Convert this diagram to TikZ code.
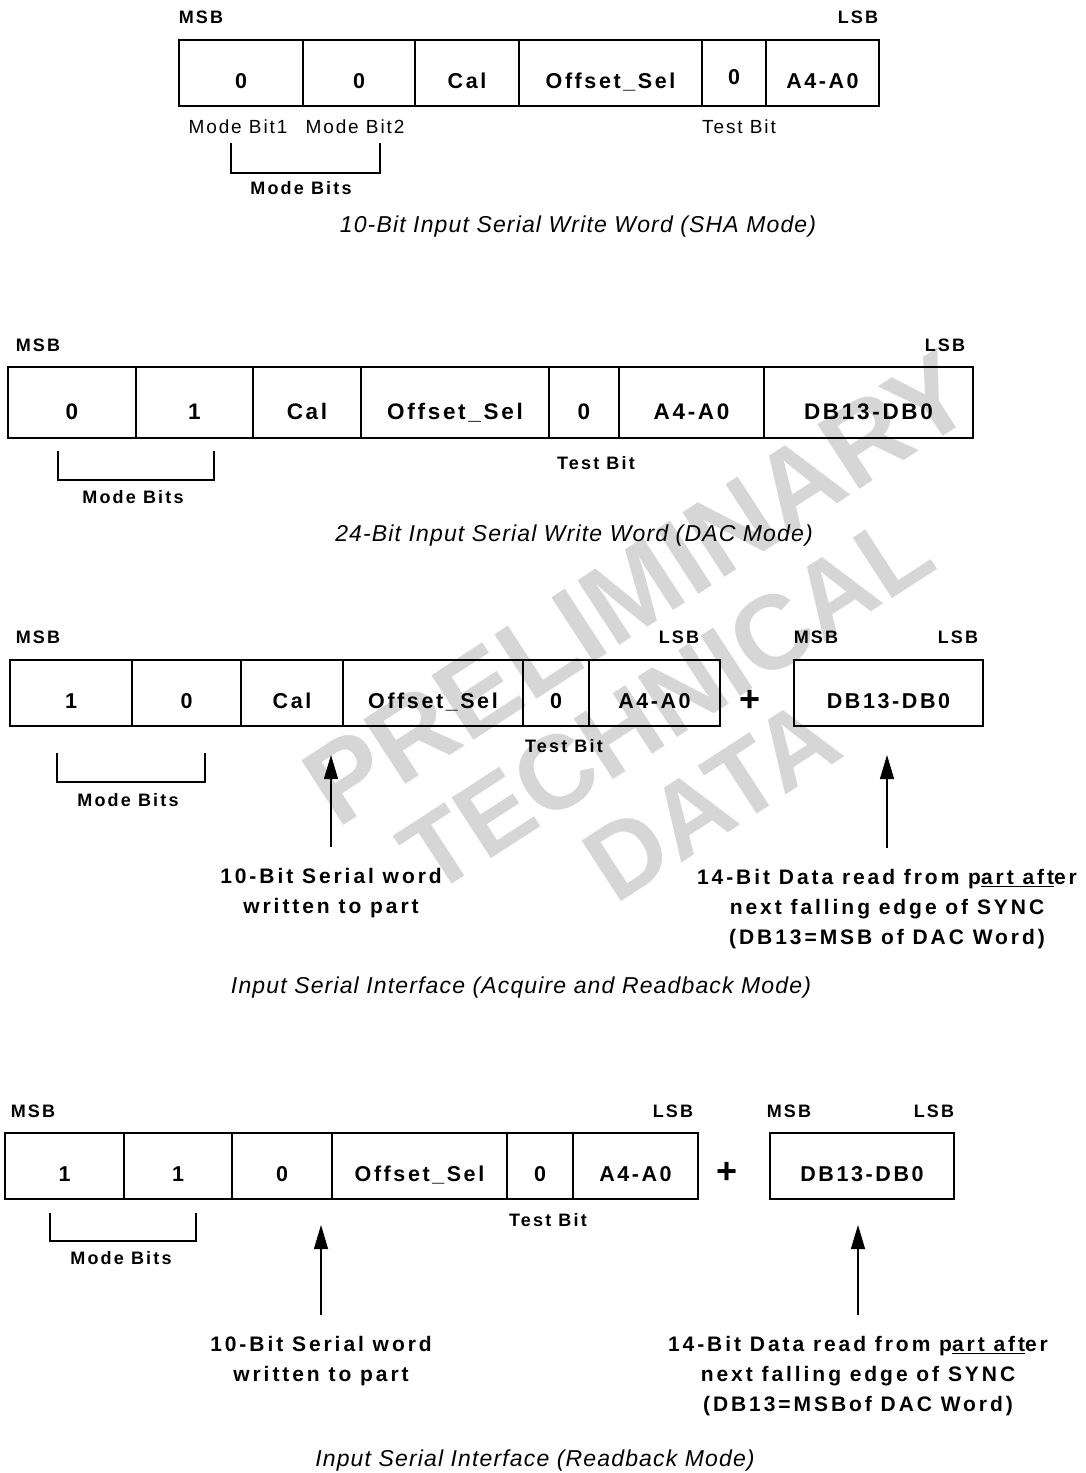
\documentclass[tikz,border=0pt]{standalone}
\usepackage{fontspec}
\setmainfont{Liberation Sans}
\newfontfamily\fieldfont[LetterSpace=12]{Liberation Sans}
\newfontfamily\lblfont[LetterSpace=14]{Liberation Sans}
\newfontfamily\tagfont[LetterSpace=12]{Liberation Sans}
\newfontfamily\notefont[LetterSpace=10]{Liberation Sans}
\newfontfamily\captfont[LetterSpace=5]{Liberation Sans}
\usetikzlibrary{arrows.meta,positioning,backgrounds}
\tikzset{
  fld/.style={draw, line width=1.6pt, minimum height=66pt, inner sep=0pt, outer sep=0pt,
              text height=31pt, text depth=0pt, font=\fieldfont\bfseries\fontsize{21.5}{25}\selectfont},
  fldw/.style={fld, minimum height=71pt, text height=33pt, font=\fieldfont\bfseries\fontsize{22.5}{26}\selectfont},
  tag/.style={font=\tagfont\bfseries\fontsize{18}{21}\selectfont, inner sep=0pt},
  note/.style={font=\notefont\fontsize{19}{22}\selectfont, inner sep=0pt},
  capt/.style={font=\captfont\itshape\fontsize{23}{27}\selectfont, inner sep=0pt},
  lbl/.style={font=\lblfont\bfseries\fontsize{21}{30}\selectfont, align=center, inner sep=0pt},
  plussign/.style={font=\bfseries\fontsize{36}{36}\selectfont, inner sep=0pt},
  brk/.style={line width=1.3pt},
  flow/.style={-{Triangle[length=24pt, width=14pt]}, line width=1.2pt, shorten <=21pt, shorten >=29pt},
  wmark/.style={font=\bfseries\fontsize{105}{105}\selectfont, text=black!16, rotate=33, inner sep=0pt},
}
\begin{document}
\begin{tikzpicture}[x=1pt, y=-1pt]
  \useasboundingbox (0,0) rectangle (1086,1473);
  % 10-bit word, SHA mode
  \node[fld, minimum width=124pt, anchor=north west] (a1) at (179,40) {0};
  \node[fld, minimum width=112pt, right=0pt of a1] (a2) {0};
  \node[fld, minimum width=104pt, right=0pt of a2] (a3) {Cal};
  \node[fld, minimum width=183pt, right=0pt of a3] (a4) {Offset\_Sel};
  \node[fld, minimum width=64pt, text height=23pt, right=0pt of a4] (a5) {0};
  \node[fld, minimum width=113pt, right=0pt of a5] (a6) {A4-A0};
  \node[tag] (a-msb) at (201,17) {MSB};
  \node[tag] (a-lsb) at (858,17) {LSB};
  \node[note] (a-mb1) at (238,127) {Mode Bit1};
  \node[note] (a-mb2) at (355,127) {Mode Bit2};
  \node[note] (a-tb) at (739,127) {Test Bit};
  \draw[brk] (231,143) |- (380,173) -- (380,143);
  \node[tag] (a-mode) at (301,188) {Mode Bits};
  \node[capt] (a-cap) at (578,227) {10-Bit Input Serial Write Word (SHA Mode)};

  % 24-bit word, DAC mode
  \node[fldw, minimum width=128pt, anchor=north west] (b1) at (8,367) {0};
  \node[fldw, minimum width=117pt, right=0pt of b1] (b2) {1};
  \node[fldw, minimum width=108pt, right=0pt of b2] (b3) {Cal};
  \node[fldw, minimum width=188pt, right=0pt of b3] (b4) {Offset\_Sel};
  \node[fldw, minimum width=70pt, right=0pt of b4] (b5) {0};
  \node[fldw, minimum width=145pt, right=0pt of b5] (b6) {A4-A0};
  \node[fldw, minimum width=209pt, right=0pt of b6] (b7) {DB13-DB0};
  \node[tag] (b-msb) at (38,345) {MSB};
  \node[tag] (b-lsb) at (945,345) {LSB};
  \node[tag] (b-tb) at (596,463) {Test Bit};
  \draw[brk] (58,451) |- (214,480) -- (214,451);
  \node[tag] (b-mode) at (133,497) {Mode Bits};
  \node[capt] (b-cap) at (574,536) {24-Bit Input Serial Write Word (DAC Mode)};

  % acquire and readback mode
  \node[fld, minimum width=122pt, anchor=north west] (c1) at (10,660) {1};
  \node[fld, minimum width=109pt, right=0pt of c1] (c2) {0};
  \node[fld, minimum width=102pt, right=0pt of c2] (c3) {Cal};
  \node[fld, minimum width=180pt, right=0pt of c3] (c4) {Offset\_Sel};
  \node[fld, minimum width=66pt, right=0pt of c4] (c5) {0};
  \node[fld, minimum width=131pt, right=0pt of c5] (c6) {A4-A0};
  \node[fld, minimum width=189pt, anchor=north west] (c7) at (794,660) {DB13-DB0};
  \node[plussign] (c-plus) at (750,701) {+};
  \node[tag] (c-msb) at (38,637) {MSB};
  \node[tag] (c-lsb) at (679,637) {LSB};
  \node[tag] (c-msb2) at (816,637) {MSB};
  \node[tag] (c-lsb2) at (958,637) {LSB};
  \node[tag] (c-tb) at (564,746) {Test Bit};
  \draw[brk] (57,753) |- (205,782) -- (205,753);
  \node[tag] (c-mode) at (128,800) {Mode Bits};
  \node[lbl] (c-wr) at (331,893) {10-Bit Serial word\\written to part};
  \node[lbl] (c-rd) at (887,909) {14-Bit Data read from p\underline{art aft}er\\next falling edge of SYNC\\(DB13=MSB of DAC Word)};
  \draw[flow] (c-wr.north) -- (c-wr.north |- c3.south);
  \draw[flow] (c-rd.north) -- (c-rd.north |- c7.south);
  \node[capt] (c-cap) at (521,988) {Input Serial Interface (Acquire and Readback Mode)};

  % readback mode
  \node[fld, minimum width=119pt, anchor=north west] (d1) at (5,1133) {1};
  \node[fld, minimum width=108pt, right=0pt of d1] (d2) {1};
  \node[fld, minimum width=100pt, right=0pt of d2] (d3) {0};
  \node[fld, minimum width=175pt, right=0pt of d3] (d4) {Offset\_Sel};
  \node[fld, minimum width=66pt, right=0pt of d4] (d5) {0};
  \node[fld, minimum width=125pt, right=0pt of d5] (d6) {A4-A0};
  \node[fld, minimum width=184pt, anchor=north west] (d7) at (770,1133) {DB13-DB0};
  \node[plussign] (d-plus) at (727,1173) {+};
  \node[tag] (d-msb) at (33,1111) {MSB};
  \node[tag] (d-lsb) at (673,1111) {LSB};
  \node[tag] (d-msb2) at (789,1111) {MSB};
  \node[tag] (d-lsb2) at (934,1111) {LSB};
  \node[tag] (d-tb) at (548,1220) {Test Bit};
  \draw[brk] (50,1213) |- (196,1241) -- (196,1213);
  \node[tag] (d-mode) at (121,1258) {Mode Bits};
  \node[lbl] (d-wr) at (321,1361) {10-Bit Serial word\\written to part};
  \node[lbl] (d-rd) at (858,1376) {14-Bit Data read from p\underline{art aft}er\\next falling edge of SYNC\\(DB13=MSBof DAC Word)};
  \draw[flow, shorten >=26pt] (d-wr.north) -- (d-wr.north |- d3.south);
  \draw[flow, shorten >=26pt] (d-rd.north) -- (d-rd.north |- d7.south);
  \node[capt] (d-cap) at (535,1461) {Input Serial Interface (Readback Mode)};

  \begin{scope}[on background layer]
    \node[wmark, font=\bfseries\fontsize{112}{112}\selectfont] (wm1) at (638,588) {PRELIMINARY};
    \node[wmark] (wm2) at (666,702) {TECHNICAL};
    \node[wmark] (wm3) at (712,800) {DATA};
  \end{scope}
\end{tikzpicture}
\end{document}
